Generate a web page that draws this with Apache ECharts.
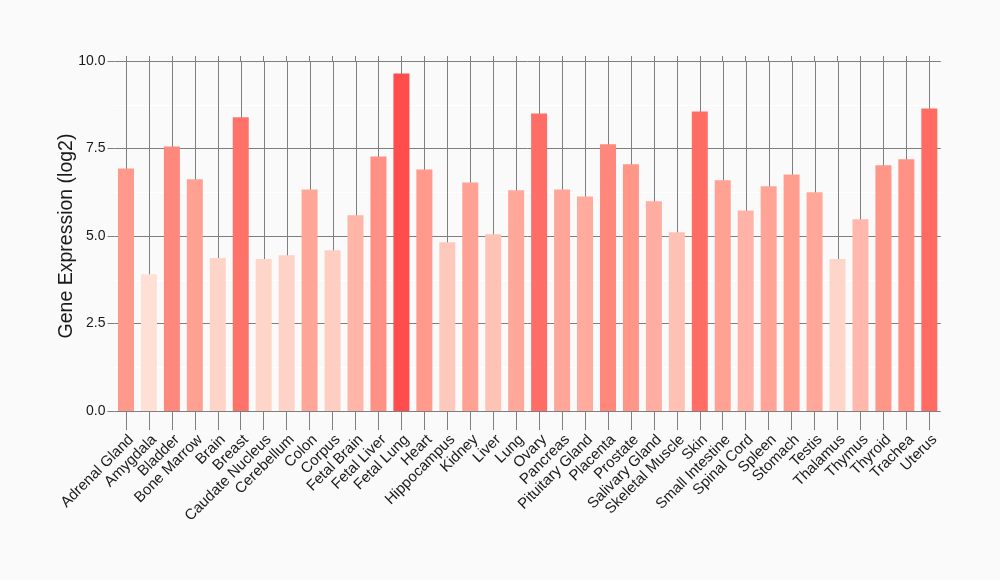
<!DOCTYPE html>
<html>
<head>
<meta charset="utf-8">
<script src="https://cdn.jsdelivr.net/npm/echarts@6/dist/echarts.min.js"></script>
<style>
html,body{margin:0;padding:0;background:#FAFAFA;}
#chart{width:1000px;height:580px;}
</style>
</head>
<body>
<div id="chart"></div>
<script>
const categories = ["Adrenal Gland","Amygdala","Bladder","Bone Marrow","Brain","Breast","Caudate Nucleus","Cerebellum","Colon","Corpus","Fetal Brain","Fetal Liver","Fetal Lung","Heart","Hippocampus","Kidney","Liver","Lung","Ovary","Pancreas","Pituitary Gland","Placenta","Prostate","Salivary Gland","Skeletal Muscle","Skin","Small Intestine","Spinal Cord","Spleen","Stomach","Testis","Thalamus","Thymus","Thyroid","Trachea","Uterus"];
const values = [6.93,3.91,7.56,6.62,4.37,8.39,4.34,4.45,6.33,4.59,5.59,7.27,9.64,6.90,4.82,6.53,5.05,6.31,8.50,6.33,6.13,7.62,7.05,5.99,5.11,8.56,6.59,5.73,6.42,6.76,6.25,4.34,5.48,7.02,7.19,8.64];
const yTicks = [0, 2.5, 5, 7.5, 10];
const yTitle = "Gene Expression (log2)";

const chart = echarts.init(document.getElementById('chart'), null, {renderer:'canvas'});
const gridColor = '#7F7F7F';
const font = 'Liberation Sans, Arial, sans-serif';
const yMin = yTicks[0], yMax = yTicks[yTicks.length-1];
const option = {
  backgroundColor: '#FAFAFA',
  animation: false,
  grid: {left: 114.5, right: 59.2, top: 61, bottom: 169},
  visualMap: {
    show: false,
    type: 'continuous',
    min: Math.min(...values),
    max: Math.max(...values),
    dimension: 1,
    seriesIndex: 1,
    inRange: {color: ['#FEE0D5','#FFBBAE','#FF9D8F','#FF776D','#FF4D4D']}
  },
  xAxis: [{
    type: 'category',
    data: categories,
    position: 'bottom',
    axisLine: {show: false},
    axisTick: {show: true, interval: 0, length: 19, alignWithLabel: true, lineStyle: {color: gridColor, width: 1}},
    splitLine: {show: false},
    axisLabel: {rotate: 45, interval: 0, margin: 21, verticalAlign: 'top', fontFamily: font, fontSize: 15, color: '#1A1A1A'}
  },{
    type: 'category',
    data: categories,
    position: 'top',
    axisLine: {show: false},
    axisTick: {show: true, interval: 0, length: 5, alignWithLabel: true, lineStyle: {color: gridColor, width: 1}},
    axisLabel: {show: false},
    splitLine: {show: false}
  }],
  yAxis: {
    type: 'value',
    min: yMin,
    max: yMax,
    interval: 2.5,
    name: yTitle,
    nameLocation: 'middle',
    nameGap: 38,
    nameMoveOverlap: false,
    nameTextStyle: {fontFamily: font, fontSize: 19.5, color: '#1A1A1A'},
    axisLine: {show: false},
    axisTick: {show: true, length: 7, lineStyle: {color: gridColor, width: 1}},
    axisLabel: {fontFamily: font, fontSize: 14, color: '#1A1A1A', margin: 9, formatter: v => v.toFixed(1)},
    splitLine: {show: true, lineStyle: {color: gridColor, width: 1}},
    minorTick: {show: false, splitNumber: 2},
    minorSplitLine: {show: true, lineStyle: {color: '#FFFFFF', width: 1}}
  },
  series: [{
    type: 'custom',
    xAxisIndex: 0,
    z: 1,
    silent: true,
    data: categories.map((c, i) => [i]),
    renderItem: function (params, api) {
      const top = api.coord([api.value(0), yMax]);
      const bot = api.coord([api.value(0), yMin]);
      return {
        type: 'line',
        shape: {x1: Math.round(top[0]) + 0.5, y1: top[1], x2: Math.round(bot[0]) + 0.5, y2: bot[1]},
        style: {stroke: gridColor, lineWidth: 1}
      };
    }
  },{
    type: 'bar',
    data: values,
    xAxisIndex: 0,
    z: 2,
    barWidth: 16,
    itemStyle: {borderWidth: 0}
  }]
};
chart.setOption(option);
</script>
</body>
</html>
